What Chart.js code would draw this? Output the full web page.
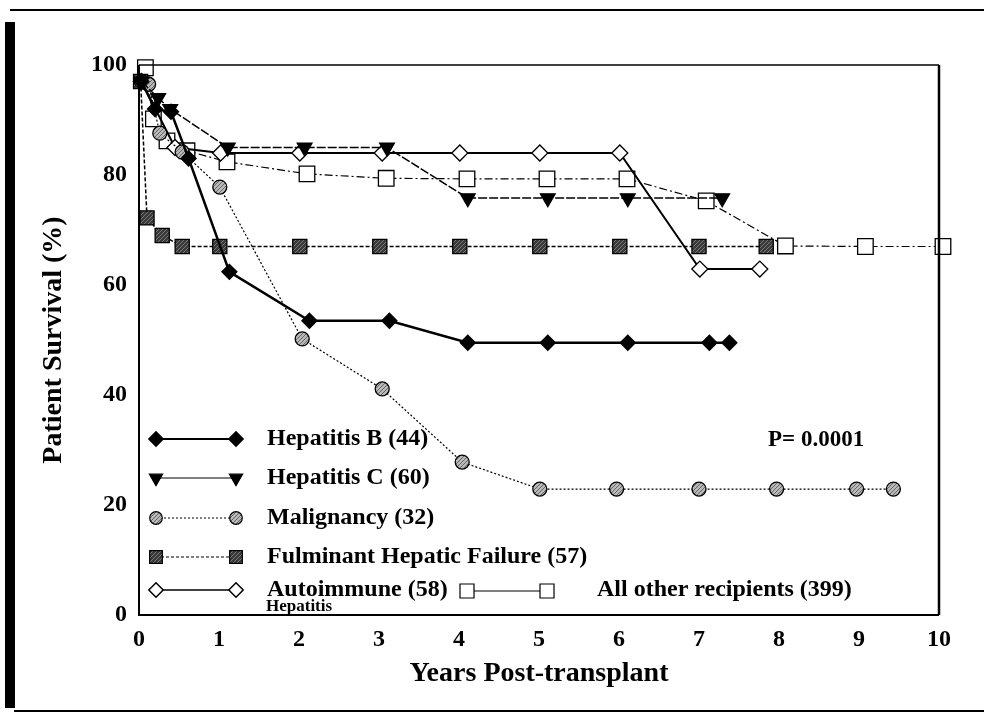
<!DOCTYPE html>
<html>
<head>
<meta charset="utf-8">
<script src="https://cdn.jsdelivr.net/npm/chart.js@4.4.1/dist/chart.umd.min.js"></script>
<style>
  html, body { margin: 0; padding: 0; background: #fff; }
  #wrap { position: relative; width: 984px; height: 713px; }
</style>
</head>
<body>
<div id="wrap"><canvas id="survivalChart" width="984" height="713"></canvas></div>
<script>
// ===== DATA =====
const xTicks = [0, 1, 2, 3, 4, 5, 6, 7, 8, 9, 10];
const yTicks = [0, 20, 40, 60, 80, 100];

const hepBYears = [0.03, 0.2, 0.4, 0.62, 1.13, 2.13, 3.13, 4.11, 5.11, 6.11, 7.13, 7.38];
const hepBSurv  = [97, 92, 91.5, 83, 62.4, 53.5, 53.5, 49.5, 49.5, 49.5, 49.5, 49.5];

const hepCYears = [0.03, 0.24, 0.39, 1.11, 2.07, 3.1, 4.11, 5.11, 6.11, 7.29];
const hepCSurv  = [97, 94, 92, 85, 85, 85, 75.8, 75.8, 75.8, 75.8];

const maligYears = [0.03, 0.12, 0.26, 0.54, 1.01, 2.04, 3.04, 4.04, 5.01, 5.97, 7.0, 7.97, 8.97, 9.43];
const maligSurv  = [97, 96.5, 87.6, 84.2, 77.8, 50.2, 41.1, 27.8, 22.9, 22.9, 22.9, 22.9, 22.9, 22.9];

const fulmYears = [0.02, 0.1, 0.29, 0.54, 1.01, 2.01, 3.01, 4.01, 5.01, 6.01, 7.0, 7.84];
const fulmSurv  = [97, 72.2, 69, 67, 67, 67, 67, 67, 67, 67, 67, 67];

const autoYears = [0.03, 0.45, 1.02, 2.01, 3.04, 4.01, 5.01, 6.01, 7.01, 7.76];
const autoSurv  = [97, 85, 84, 84, 84, 84, 84, 84, 62.9, 62.9];

const otherYears = [0.08, 0.18, 0.35, 0.6, 1.1, 2.1, 3.09, 4.1, 5.1, 6.1, 7.09, 8.08, 9.08, 10.05];
const otherSurv  = [99.5, 90.2, 86.2, 84.4, 82.4, 80.2, 79.4, 79.3, 79.3, 79.3, 75.3, 67.1, 67, 67];

const FONT = "'Liberation Serif', 'Times New Roman', serif";

function toPoints(xs, ys) {
  return xs.map((x, i) => ({ x: x, y: ys[i] }));
}

// hatched gray fill for the circle / square markers
function makeHatch(bg, fg) {
  const c = document.createElement('canvas');
  c.width = 4; c.height = 4;
  const g = c.getContext('2d');
  g.fillStyle = bg; g.fillRect(0, 0, 4, 4);
  g.strokeStyle = fg; g.lineWidth = 1;
  g.beginPath(); g.moveTo(0, 4); g.lineTo(4, 0); g.stroke();
  return g.createPattern(c, 'repeat');
}
const maligFill = makeHatch('#b8b8b8', '#666');
const fulmFill = makeHatch('#3a3a3a', '#777');

// one entry per group; legendDash / legendWidth are for the little legend samples
const series = [
  { label: 'Hepatitis B (44)', xs: hepBYears, ys: hepBSurv, pointStyle: 'rectRot', radius: 7.5, rotation: 0,
    fill: '#000', lineWidth: 2.5, dash: [], legendWidth: 2, legendDash: [] },
  { label: 'Hepatitis C (60)', xs: hepCYears, ys: hepCSurv, pointStyle: 'triangle', radius: 8.5, rotation: 180,
    fill: '#000', lineWidth: 1.5, dash: [9, 2], legendWidth: 1.2, legendDash: [] },
  { label: 'Malignancy (32)', xs: maligYears, ys: maligSurv, pointStyle: 'circle', radius: 7, rotation: 0,
    fill: maligFill, lineWidth: 1.2, dash: [2, 2], legendWidth: 1.2, legendDash: [2, 2] },
  { label: 'Fulminant Hepatic Failure (57)', xs: fulmYears, ys: fulmSurv, pointStyle: 'rect', radius: 10, rotation: 0,
    fill: fulmFill, lineWidth: 1.5, dash: [4, 2], legendWidth: 1.2, legendDash: [3, 2] },
  { label: 'Autoimmune (58)', xs: autoYears, ys: autoSurv, pointStyle: 'rectRot', radius: 8, rotation: 0,
    fill: '#fff', lineWidth: 2, dash: [], legendWidth: 1.5, legendDash: [] },
  { label: 'All other recipients (399)', xs: otherYears, ys: otherSurv, pointStyle: 'rect', radius: 11, rotation: 0,
    fill: '#fff', lineWidth: 1.2, dash: [8, 3, 2, 3], legendWidth: 1.2, legendDash: [] }
];

const datasets = series.map(s => ({
  label: s.label,
  data: toPoints(s.xs, s.ys),
  showLine: true,
  borderColor: '#000',
  borderWidth: s.lineWidth,
  borderDash: s.dash,
  pointStyle: s.pointStyle,
  pointRotation: s.rotation,
  pointRadius: s.radius,
  pointHoverRadius: s.radius,
  pointBackgroundColor: s.fill,
  pointBorderColor: '#000',
  pointBorderWidth: 1.3,
  tension: 0,
  clip: false
}));

// page frame + plot box
const framePlugin = {
  id: 'frame',
  beforeDraw(chart) {
    const ctx = chart.ctx;
    ctx.save();
    ctx.fillStyle = '#fff';
    ctx.fillRect(0, 0, chart.width, chart.height);
    ctx.fillStyle = '#000';
    ctx.fillRect(10, 9, 974, 2);      // top rule
    ctx.fillRect(5, 22, 10, 686);     // thick left bar
    ctx.fillRect(14, 710, 970, 2);    // bottom rule
    ctx.restore();
  },
  afterDatasetsDraw(chart) {
    const a = chart.chartArea;
    const ctx = chart.ctx;
    ctx.save();
    ctx.strokeStyle = '#000';
    ctx.lineWidth = 1.5;
    ctx.beginPath(); ctx.moveTo(a.left, a.top); ctx.lineTo(a.right, a.top); ctx.stroke();
    ctx.lineWidth = 2.5;
    ctx.beginPath(); ctx.moveTo(a.right, a.top); ctx.lineTo(a.right, a.bottom); ctx.stroke();
    ctx.lineWidth = 2;
    ctx.beginPath(); ctx.moveTo(a.left, a.top); ctx.lineTo(a.left, a.bottom); ctx.lineTo(a.right, a.bottom); ctx.stroke();
    ctx.restore();
  }
};

// hand-laid legend inside the plot, like the original figure
const legendPlugin = {
  id: 'sideLegend',
  afterDraw(chart) {
    const ctx = chart.ctx;
    const rows = [439, 478, 518, 557, 590];
    ctx.save();
    function sample(s, x1, x2, y) {
      ctx.strokeStyle = '#000';
      ctx.lineWidth = s.legendWidth;
      ctx.setLineDash(s.legendDash);
      ctx.beginPath(); ctx.moveTo(x1, y); ctx.lineTo(x2, y); ctx.stroke();
      ctx.setLineDash([]);
      const opts = { pointStyle: s.pointStyle, radius: s.radius * 0.9, rotation: s.rotation, borderWidth: 1.3 };
      ctx.fillStyle = s.fill;
      [x1, x2].forEach(px => Chart.helpers.drawPoint(ctx, opts, px, y));
    }
    ctx.font = 'bold 24px ' + FONT;
    ctx.textBaseline = 'middle';
    for (let i = 0; i < 5; i++) {
      sample(series[i], 156, 236, rows[i]);
      ctx.fillStyle = '#000';
      ctx.fillText(series[i].label, 267, rows[i]);
    }
    // autoimmune sub-label
    ctx.font = 'bold 17px ' + FONT;
    ctx.fillText('Hepatitis', 266, 607);
    // all other recipients
    sample(series[5], 467, 547, 591);
    ctx.fillStyle = '#000';
    ctx.font = 'bold 24px ' + FONT;
    ctx.fillText(series[5].label, 597, 590);
    // p value
    ctx.font = 'bold 23px ' + FONT;
    ctx.fillText('P= 0.0001', 768, 440);
    ctx.restore();
  }
};

const ctx = document.getElementById('survivalChart');

new Chart(ctx, {
  type: 'scatter',
  data: { datasets: datasets },
  options: {
    responsive: false,
    animation: false,
    devicePixelRatio: 1,
    layout: { padding: { left: 0, top: 65, right: 45, bottom: 0 } },
    plugins: {
      legend: { display: false },
      tooltip: { enabled: false }
    },
    scales: {
      x: {
        type: 'linear',
        min: 0,
        max: 10,
        afterBuildTicks: scale => { scale.ticks = xTicks.map(v => ({ value: v })); },
        afterFit: scale => { scale.height = 98; },
        grid: { display: false, drawTicks: false },
        border: { display: false },
        ticks: {
          color: '#000',
          padding: 10,
          maxRotation: 0,
          font: { family: FONT, size: 24, weight: 'bold' }
        },
        title: {
          display: true,
          text: 'Years Post-transplant',
          color: '#000',
          padding: { top: 0, bottom: 22 },
          font: { family: FONT, size: 28, weight: 'bold' }
        }
      },
      y: {
        type: 'linear',
        min: 0,
        max: 100,
        afterBuildTicks: scale => { scale.ticks = yTicks.map(v => ({ value: v })); },
        afterFit: scale => { scale.width = 139; },
        grid: { display: false, drawTicks: false },
        border: { display: false },
        ticks: {
          color: '#000',
          padding: 12,
          font: { family: FONT, size: 24, weight: 'bold' }
        },
        title: {
          display: true,
          text: 'Patient Survival (%)',
          color: '#000',
          padding: { top: 37, bottom: 0 },
          font: { family: FONT, size: 28, weight: 'bold' }
        }
      }
    }
  },
  plugins: [framePlugin, legendPlugin]
});
</script>
</body>
</html>
